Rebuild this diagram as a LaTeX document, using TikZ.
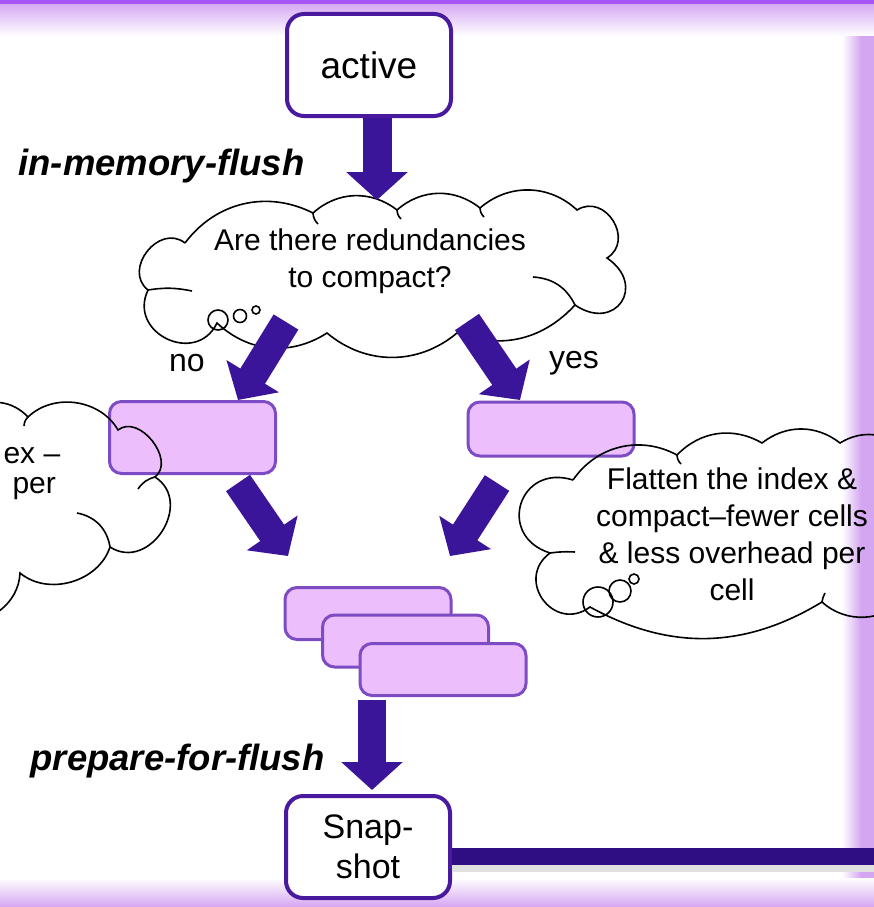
\documentclass[tikz,border=0pt]{standalone}
\usepackage{fontspec}
\setmainfont{Liberation Sans}
\usetikzlibrary{arrows.meta}
\definecolor{arrowc}{RGB}{58,20,153}
\definecolor{boxline}{RGB}{74,26,158}
\definecolor{lilac}{RGB}{236,190,251}
\definecolor{lilacline}{RGB}{125,76,196}
\definecolor{framec}{RGB}{212,166,242}
\definecolor{frametop}{RGB}{168,85,247}
\definecolor{barc}{RGB}{46,14,130}
\tikzset{
 statebox/.style={draw=boxline, line width=4pt, rounded corners=17pt, fill=white, minimum width=164pt, minimum height=102pt, align=center, font=\fontsize{34}{40}\selectfont},
 stepbox/.style={draw=lilacline, line width=3pt, rounded corners=12pt, fill=lilac, minimum width=166pt},
 blockarrow/.style={draw=arrowc, line width=29pt, -{Triangle[length=28pt,width=60pt]}},
 cloudline/.style={draw=black, line width=1.6pt},
 cloudtext/.style={align=center, font=\fontsize{30}{37}\selectfont},
 lbl/.style={font=\fontsize{32}{38}\selectfont},
 phase/.style={font=\fontsize{36.5}{40}\selectfont\bfseries\itshape, anchor=base west},
 puff/.style={bend left=#1},
 lobe/.style={bend left=90, looseness=#1},
}
\begin{document}
\begin{tikzpicture}[x=1pt,y=-1pt]
\path[use as bounding box] (0,0) rectangle (874,907);
\clip (0,0) rectangle (874,907);
% frame
\fill[white] (0,0) rectangle (874,907);
\shade[left color=white, right color=framec] (842,3) rectangle (861,907);
\fill[framec] (861,3) rectangle (874,907);
\shade[top color=framec, bottom color=white] (0,3) rectangle (874,36);
\shade[top color=white, bottom color=framec] (0,878) rectangle (874,907);
\fill[frametop] (0,0) rectangle (874,4);

% state boxes
\node[statebox, font=\fontsize{37}{40}\selectfont] (active) at (369,65) {active};
\node[statebox] (snap) at (368,847) {Snap-\\shot};

% step boxes
\node[stepbox, minimum height=72pt] (nobox) at (192.5,437.5) {};
\node[stepbox, minimum height=54pt] (yesbox) at (551,429) {};
\node[stepbox, minimum height=52pt] (seg1) at (368,613.5) {};
\node[stepbox, minimum height=52pt] (seg2) at (405.5,641) {};
\node[stepbox, minimum height=52pt] (seg3) at (443,669.5) {};

% top cloud
\draw[cloudline] (185,243) to[puff=40] (313,213) to[puff=40] (397,210) to[puff=40] (480,208)
  to[puff=42] (577,210) to[lobe=1.5] (607,258) to[lobe=2.2] (575,305) to[puff=34] (457,333)
  to[puff=40] (327,333) to[puff=38] (217,323) to[lobe=1.6] (148,290) to[lobe=1.4] (185,243);
\draw[cloudline] (313,213) to[bend right=20] (318,224);
\draw[cloudline] (397,210) to[bend right=20] (401,219);
\draw[cloudline] (480,208) to[bend right=20] (484,217);
\draw[cloudline] (533,277) to[bend left=30] (575,305);
\draw[cloudline] (148,290) to[bend left=10] (192,291);
\draw[cloudline] (218,320) circle (10pt);
\draw[cloudline] (240,316) circle (6.5pt);
\draw[cloudline] (256,310) circle (4pt);
\node[cloudtext] (question) at (370,261) {Are there redundancies\\to compact?};

% left cloud (cut by the frame)
\draw[cloudline] (-30,410) to[puff=40] (28,417) to[puff=52] (118,430) to[lobe=1.15] (155,477)
  to[lobe=1.45] (110,547) to[puff=56] (20,573) to[puff=50] (-40,620);
\draw[cloudline] (28,417) to[bend right=20] (24,426);
\draw[cloudline] (155,477) to[bend right=20] (138,489);
\draw[cloudline] (110,547) to[bend right=35] (77,513);
\node[font=\fontsize{30}{37}\selectfont, anchor=base west] (lefta) at (0,463) {ex –};
\node[font=\fontsize{30}{37}\selectfont, anchor=base west] (leftb) at (9,493) {per};

% right cloud
\draw[cloudline] (573,480) to[puff=42] (677,455) to[puff=38] (762,443) to[puff=38] (840,443)
  to[puff=38] (905,450) -- (905,598) to[puff=45] (822,602) to[puff=30] (590,607)
  to[lobe=1.7] (550,553) to[lobe=1.9] (573,480);
\draw[cloudline] (677,455) to[bend right=20] (681,464);
\draw[cloudline] (550,553) to[bend left=5] (575,552);
\draw[cloudline] (822,602) to[bend left=10] (825,593);
\draw[cloudline] (598,602) circle (15pt);
\draw[cloudline] (620,591) circle (11pt);
\draw[cloudline] (634,579) circle (5pt);
\node[cloudtext] (flatten) at (732,534) {Flatten the index \&\\compact–fewer cells\\\& less overhead per\\cell};

% labels
\node[lbl] (nolbl) at (187,363) {no};
\node[lbl] (yeslbl) at (574,363) {yes};
\node[phase] (imf) at (15,175) {in-memory-flush};
\node[phase] (pff) at (27,770) {prepare-for-flush};

% arrows
\coordinate (a1s) at (377,118);
\coordinate (a1e) at (377,200);
\coordinate (ns) at (286,322);
\coordinate (ne) at (238,400);
\coordinate (ys) at (467,322);
\coordinate (ye) at (520,400);
\coordinate (ls) at (238,483);
\coordinate (le) at (288,556);
\coordinate (rs) at (497,483);
\coordinate (re) at (450,556);
\coordinate (bs) at (372,700);
\coordinate (be) at (372,790);
\draw[blockarrow] (a1s) -- (a1e);
\draw[blockarrow] (ns) -- (ne);
\draw[blockarrow] (ys) -- (ye);
\draw[blockarrow] (ls) -- (le);
\draw[blockarrow] (rs) -- (re);
\draw[blockarrow, line width=28pt] (bs) -- (be);

% bar
\coordinate (barend) at (880,856);
\draw[black!12, line width=8pt] ([yshift=-12pt]snap.east |- barend) -- ([yshift=-12pt]barend);
\draw[barc, line width=17pt] (snap.east |- barend) -- (barend);
\end{tikzpicture}
\end{document}
